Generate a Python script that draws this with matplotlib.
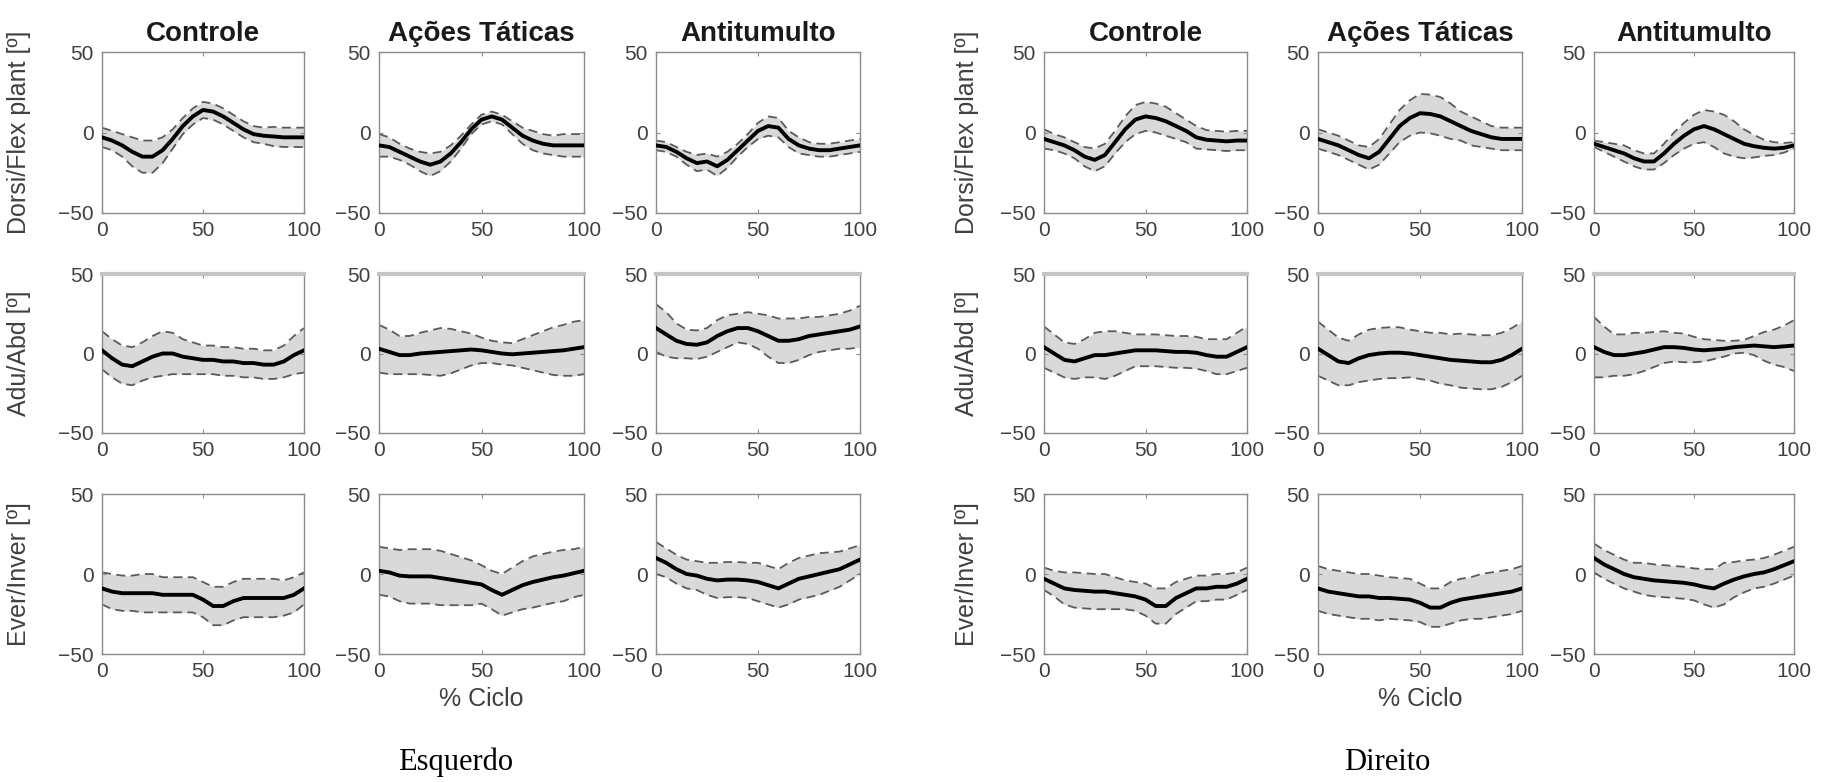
import matplotlib
matplotlib.use("Agg")
import matplotlib.pyplot as plt
import numpy as np

# ---------------- data ----------------
pct = [0, 5, 10, 15, 20, 25, 30, 35, 40, 45, 50, 55, 60, 65, 70, 75, 80, 85, 90, 95, 100]

titles = ["Controle", "Ações Táticas", "Antitumulto"]
ylabels = ["Dorsi/Flex plant [º]", "Adu/Abd [º]", "Ever/Inver [º]"]
groups = ["Esquerdo", "Direito"]
xlabel = "% Ciclo"
xticks = [0, 50, 100]
yticks = [-50, 0, 50]

# ---- Esquerdo ----
esq_df_ctrl_mean = [-3, -5, -8, -12, -15, -15, -11, -4, 4, 10, 14, 13, 10, 6, 2, -1, -2, -2.5, -3, -3, -3]
esq_df_ctrl_sd = [6, 6, 7, 9, 10, 10, 8, 6, 5, 5, 5, 5, 5, 5, 5, 5, 5, 6, 6, 6, 6]
esq_df_acoes_mean = [-8, -9, -12, -15, -18, -20, -18, -13, -6, 2, 8, 10, 8, 3, -2, -5, -7, -8, -8, -8, -8]
esq_df_acoes_sd = [7, 6, 5, 5, 6, 7, 6, 5, 4, 3, 3, 3, 3, 4, 5, 6, 6, 6, 7, 7, 7]
esq_df_anti_mean = [-8, -9, -12, -16, -19, -18, -21, -17, -11, -5, 1, 4, 3, -4, -8, -10, -11, -11, -10, -9, -8]
esq_df_anti_sd = [3, 3, 3, 4, 5, 5, 6, 5, 4, 4, 5, 6, 6, 5, 5, 4, 4, 4, 4, 4, 4]

esq_aa_ctrl_mean = [2, -3, -7, -8, -5, -2, 0, 0, -2, -3, -4, -4, -5, -5, -6, -6, -7, -7, -5, -1, 2]
esq_aa_ctrl_sd = [12, 12, 12, 12, 12, 13, 14, 13, 11, 10, 9, 9, 9, 9, 9, 9, 9, 9, 10, 12, 14]
esq_aa_acoes_mean = [3, 1, -1, -1, 0, 0.5, 1, 1.5, 2, 2.5, 2, 1, 0, -0.5, 0, 0.5, 1, 1.5, 2, 3, 4]
esq_aa_acoes_sd = [15, 14, 12, 12, 13, 14, 15, 14, 12, 10, 8, 7, 7, 7, 9, 11, 13, 15, 16, 17, 17]
esq_aa_anti_mean = [16, 12, 8, 6, 5.5, 7, 11, 14, 16, 16, 14, 11, 8, 8, 9, 11, 12, 13, 14, 15, 17]
esq_aa_anti_sd = [15, 14, 11, 9, 9, 9, 10, 10, 9, 10, 11, 13, 14, 14, 13, 12, 11, 11, 11, 12, 13]

esq_ei_ctrl_mean = [-9, -11, -12, -12, -12, -12, -13, -13, -13, -13, -16, -20, -20, -17, -15, -15, -15, -15, -15, -13, -9]
esq_ei_ctrl_sd = [10, 11, 11, 11, 12, 12, 11, 11, 11, 11, 11, 12, 12, 12, 12, 12, 12, 12, 11, 11, 10]
esq_ei_acoes_mean = [2, 1, -1, -1.5, -1.5, -1.5, -2.5, -3.5, -4.5, -5.5, -6.5, -10, -13, -10, -7, -5, -3.5, -2, -1, 0.5, 2]
esq_ei_acoes_sd = [15, 15, 16, 17, 17, 17, 17, 16, 15, 14, 12, 12, 13, 14, 15, 16, 16, 16, 16, 15, 15]
esq_ei_anti_mean = [10, 7, 3, 0, -1, -3, -4, -3.5, -3.5, -4, -5, -7, -9, -6, -3, -1.5, 0, 1.5, 3, 6, 9]
esq_ei_anti_sd = [10, 9, 9, 9, 9, 10, 11, 11, 11, 11, 12, 12, 12, 13, 13, 13, 13, 12, 11, 10, 9]

# ---- Direito ----
dir_df_ctrl_mean = [-4, -6, -8, -11, -15, -17, -14, -6, 2, 8, 10, 9, 7, 4, 1, -3, -4.5, -5, -5.5, -5, -5]
dir_df_ctrl_sd = [6, 5, 5, 5, 6, 7, 7, 7, 8, 9, 9, 9, 9, 8, 7, 7, 6, 6, 6, 6, 6]
dir_df_acoes_mean = [-4, -6, -8, -11, -14, -16, -12, -4, 4, 9, 12, 11.5, 10, 7, 4, 1, -1, -3, -4, -4, -4]
dir_df_acoes_sd = [6, 6, 6, 6, 6, 7, 8, 9, 10, 11, 12, 12, 12, 11, 9, 9, 8, 7, 7, 7, 7]
dir_df_anti_mean = [-7, -9, -11, -13, -16, -18, -18, -13, -7, -2, 2, 4, 2, -1, -4, -7, -8.5, -9.5, -10, -9.5, -8]
dir_df_anti_sd = [2, 3, 4, 5, 5, 5, 5, 6, 7, 8, 9, 10, 11, 12, 11, 9, 7, 5, 4, 3, 2]

dir_aa_ctrl_mean = [4, 0, -4, -5, -3, -1, -1, 0, 1, 2, 2, 2, 1.5, 1, 1, 0.5, -1, -2, -2, 1, 4]
dir_aa_ctrl_sd = [13, 12, 11, 11, 12, 14, 15, 14, 12, 10, 10, 10, 10, 10, 10, 10, 10, 11, 11, 12, 13]
dir_aa_acoes_mean = [3, -1, -5, -6, -3, -1, 0, 0.5, 0.5, 0, -1, -2, -3, -4, -4.5, -5, -5.5, -5.5, -4, -1, 3]
dir_aa_acoes_sd = [17, 16, 15, 14, 15, 16, 16, 16, 16, 15, 15, 15, 16, 16, 17, 17, 17, 17, 17, 17, 17]
dir_aa_anti_mean = [4, 1, -1, -1, 0, 1, 2.5, 4, 4, 3.5, 2.5, 2, 2.5, 3, 4, 4.5, 5, 4.5, 4, 4.5, 5]
dir_aa_anti_sd = [19, 16, 13, 13, 13, 12, 11, 10, 9, 9, 8, 7, 6, 5, 4, 4, 6, 9, 11, 13, 16]

dir_ei_ctrl_mean = [-3, -6, -9, -10, -10.5, -11, -11, -12, -13, -14, -16, -20, -20, -15, -12, -9, -9, -8, -8, -6, -3]
dir_ei_ctrl_sd = [7, 8, 10, 11, 11, 11, 11, 10, 9, 9, 10, 11, 11, 10, 9, 8, 8, 8, 8, 7, 7]
dir_ei_acoes_mean = [-9, -11, -12, -13, -14, -14, -15, -15, -15.5, -16, -18, -21, -21, -18, -16, -15, -14, -13, -12, -11, -9]
dir_ei_acoes_sd = [14, 14, 14, 14, 14, 14, 14, 13, 13, 13, 12, 12, 12, 13, 13, 13, 14, 14, 14, 14, 14]
dir_ei_anti_mean = [10, 6, 3, 0, -2, -3, -4, -4.5, -5, -5.5, -6.5, -8, -9, -6, -3.5, -1.5, 0, 1, 3, 5.5, 8]
dir_ei_anti_sd = [9, 9, 9, 9, 9, 10, 10, 10, 10, 10, 10, 11, 12, 13, 11, 10, 9, 9, 9, 9, 9]

panels = {
    "Esquerdo": [
        [(esq_df_ctrl_mean, esq_df_ctrl_sd), (esq_df_acoes_mean, esq_df_acoes_sd), (esq_df_anti_mean, esq_df_anti_sd)],
        [(esq_aa_ctrl_mean, esq_aa_ctrl_sd), (esq_aa_acoes_mean, esq_aa_acoes_sd), (esq_aa_anti_mean, esq_aa_anti_sd)],
        [(esq_ei_ctrl_mean, esq_ei_ctrl_sd), (esq_ei_acoes_mean, esq_ei_acoes_sd), (esq_ei_anti_mean, esq_ei_anti_sd)],
    ],
    "Direito": [
        [(dir_df_ctrl_mean, dir_df_ctrl_sd), (dir_df_acoes_mean, dir_df_acoes_sd), (dir_df_anti_mean, dir_df_anti_sd)],
        [(dir_aa_ctrl_mean, dir_aa_ctrl_sd), (dir_aa_acoes_mean, dir_aa_acoes_sd), (dir_aa_anti_mean, dir_aa_anti_sd)],
        [(dir_ei_ctrl_mean, dir_ei_ctrl_sd), (dir_ei_acoes_mean, dir_ei_acoes_sd), (dir_ei_anti_mean, dir_ei_anti_sd)],
    ],
}

# ---------------- layout (pixels) ----------------
W, H = 1830, 782
col_px = {
    "Esquerdo": [(102, 304), (379, 584), (656, 860)],
    "Direito": [(1044, 1247), (1318, 1522), (1594, 1794)],
}
row_px = [(52, 213), (274, 433), (494, 654)]
ylabel_x = {"Esquerdo": -0.35, "Direito": -0.32}
group_label_px = {"Esquerdo": (456, 762), "Direito": (1387, 763)}

plt.rcParams["font.family"] = ["Liberation Sans", "DejaVu Sans"]

fig = plt.figure(figsize=(W / 100, H / 100), dpi=100)
fig.patch.set_facecolor("white")

spine_col = "#8c8c8c"
text_col = "#404040"

for g in groups:
    for r in range(3):
        for c in range(3):
            x0, x1 = col_px[g][c]
            y0, y1 = row_px[r]
            ax = fig.add_axes([x0 / W, 1 - y1 / H, (x1 - x0) / W, (y1 - y0) / H])
            mean, sd = panels[g][r][c]
            m = np.array(mean, dtype=float)
            s = np.array(sd, dtype=float)
            x = np.array(pct, dtype=float)
            ax.fill_between(x, m - s, m + s, color="#d9d9d9", lw=0, zorder=1)
            ax.plot(x, m + s, color="#5a5a5a", lw=1.3, ls=(0, (5, 3)), zorder=2)
            ax.plot(x, m - s, color="#5a5a5a", lw=1.3, ls=(0, (5, 3)), zorder=2)
            ax.plot(x, m, color="black", lw=2.8, zorder=3, solid_joinstyle="round")
            ax.set_xlim(0, 100)
            ax.set_ylim(-50, 50)
            ax.set_xticks(xticks)
            ax.set_yticks(yticks)
            ax.tick_params(direction="in", length=3, width=0.8, colors=spine_col,
                           labelcolor=text_col, labelsize=15, top=True, right=True, pad=6)
            for sp in ax.spines.values():
                sp.set_color(spine_col)
                sp.set_linewidth(1.0)
            if r == 1:
                ax.spines["top"].set_color("#c4c4c4")
                ax.spines["top"].set_linewidth(3.0)
            if r == 0:
                ax.set_title(titles[c], fontsize=20, fontweight="bold", color="#1a1a1a", pad=8)
            if c == 0:
                ax.set_ylabel(ylabels[r], fontsize=18, color=text_col)
                ax.yaxis.set_label_coords(ylabel_x[g], 0.5)
            if r == 2 and c == 1:
                ax.set_xlabel(xlabel, fontsize=18, color=text_col, labelpad=4)

    gx, gy = group_label_px[g]
    fig.text(gx / W, 1 - gy / H, g, ha="center", va="center", fontsize=22,
             family=["Liberation Serif", "DejaVu Serif"], color="black")

fig.savefig("out.png", dpi=100, facecolor="white")
